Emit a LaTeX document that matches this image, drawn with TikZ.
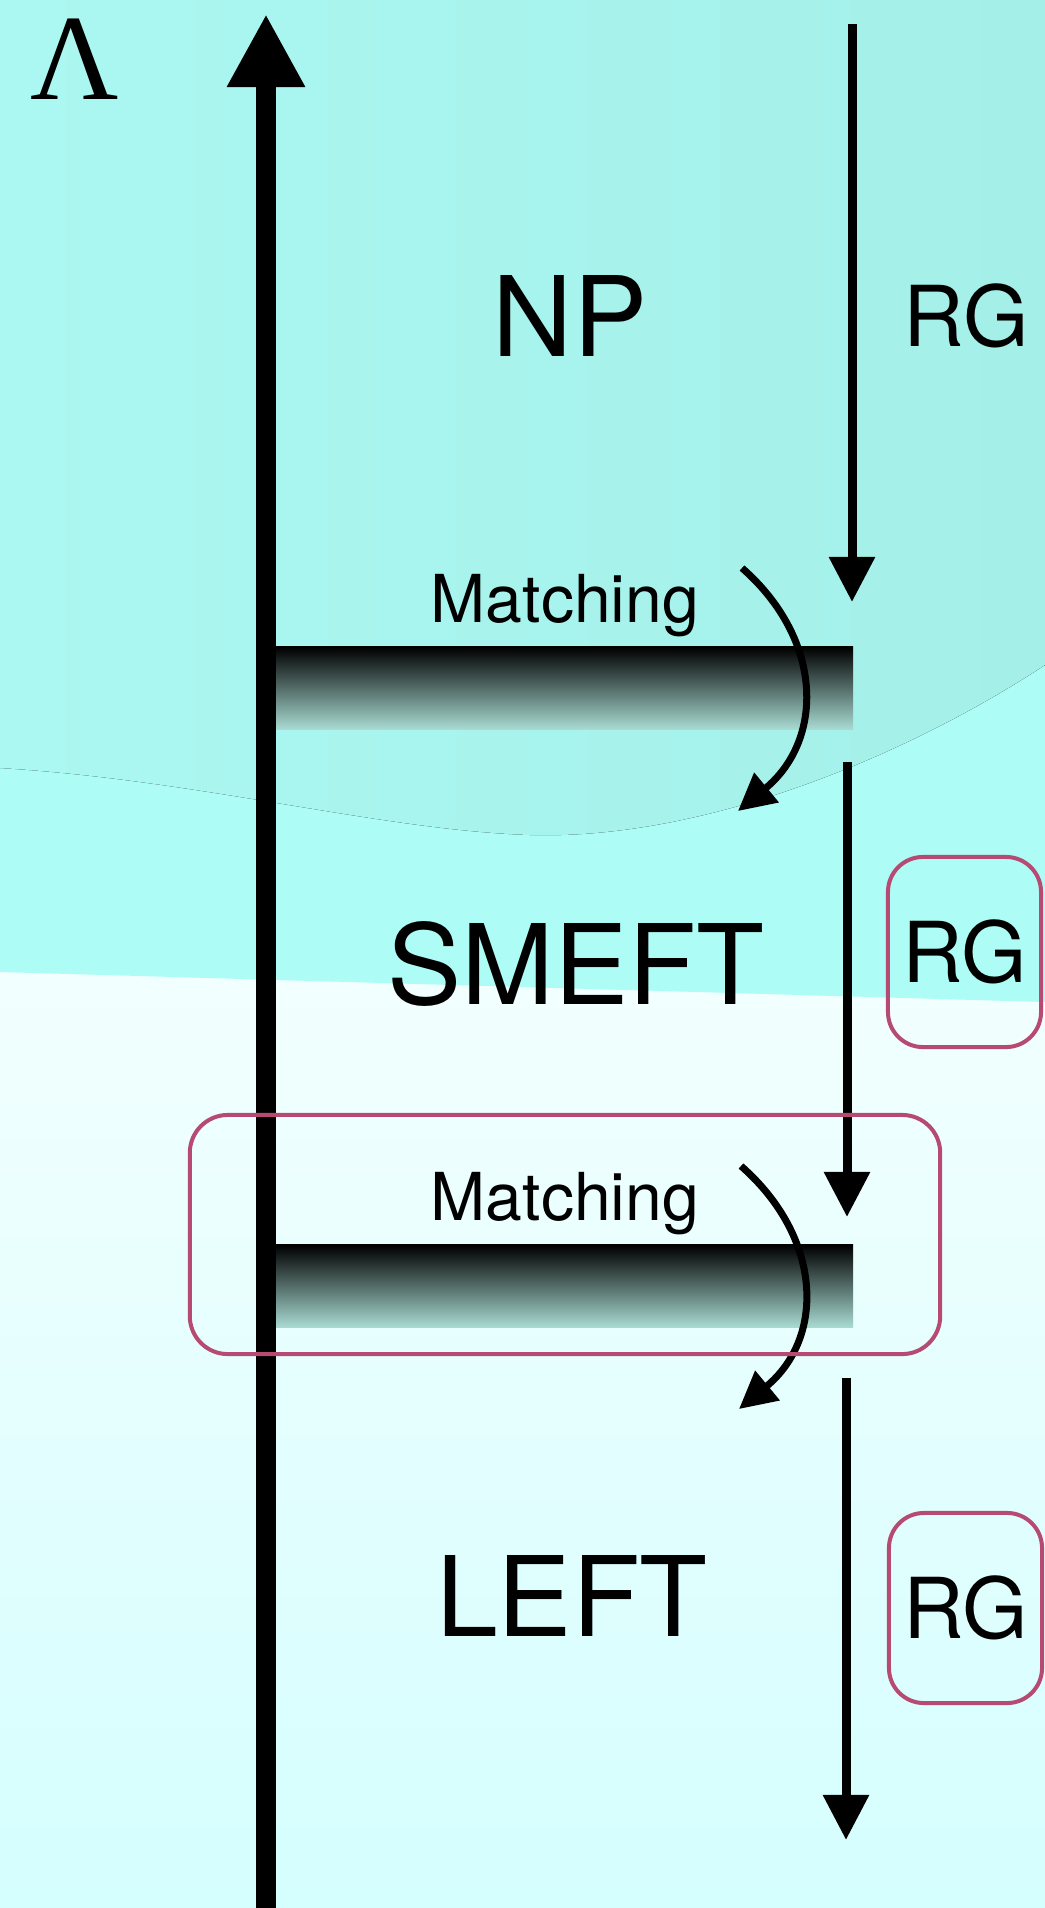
\documentclass[tikz,border=0pt]{standalone}
\usepackage{fontspec}
\setmainfont{TeX Gyre Heros}
\newfontfamily\lamfont{Liberation Serif}
\usetikzlibrary{arrows.meta}
\definecolor{bandleft}{HTML}{ABF7F1}
\definecolor{bandright}{HTML}{A4F0E9}
\definecolor{brightcyan}{HTML}{ADFCF6}
\definecolor{lowtop}{HTML}{F2FFFE}
\definecolor{lowbot}{HTML}{D5FEFE}
\definecolor{boxpink}{HTML}{B64A72}
\definecolor{barbottom}{HTML}{A8DAD2}

\tikzset{
  eftlabel/.style={font=\fontsize{31.6}{36}\selectfont, inner sep=0pt, anchor=base},
  rglabel/.style={font=\fontsize{23.9}{28}\selectfont, inner sep=0pt},
  rgbox/.style={rglabel, draw=boxpink, line width=0.04cm, rounded corners=0.35cm, minimum width=1.53cm, minimum height=1.9cm},
  matchlabel/.style={font=\fontsize{18.8}{22}\selectfont, inner sep=0pt, anchor=base},
  matchbar/.style={top color=black, bottom color=barbottom, minimum width=5.77cm, minimum height=0.82cm, inner sep=0pt},
  matchbox/.style={draw=boxpink, line width=0.04cm, rounded corners=0.38cm, minimum width=7.5cm, minimum height=2.39cm, inner sep=0pt},
  rgarrow/.style={-{Triangle[width=0.44cm,length=0.45cm]}, line width=0.09cm},
  matcharrow/.style={-{Triangle[width=0.37cm,length=0.37cm]}, line width=0.07cm},
}

\begin{document}
\begin{tikzpicture}[x=0.01cm, y=-0.01cm]
\useasboundingbox (0,0) rectangle (1045,1908);

\fill[top color=lowtop, bottom color=lowbot] (0,960) rectangle (1045,1908);
\fill[brightcyan] (0,0) -- (1045,0) -- (1045,1002) -- (0,972) -- cycle;
\fill[left color=bandleft, right color=bandright] (0,0) -- (1045,0) -- (1045,665)
  .. controls (900,760) and (700,840) .. (530,835)
  .. controls (380,830) and (200,780) .. (0,768) -- cycle;

\node[matchbar] (bar1) at (564.5,688) {};
\node[matchbar] (bar2) at (564.5,1286) {};

\coordinate (abot) at (266,1908);
\coordinate (atop) at (266,14);
\draw[-{Triangle[width=0.73cm,length=0.73cm]}, line width=0.195cm] (abot) -- (atop);
\node[font=\lamfont\fontsize{34.7}{40}\selectfont, inner sep=0pt, anchor=base] (lam) at (75,99) {Λ};

\coordinate (r1s) at (852,24);
\coordinate (r1e) at (852,602);
\coordinate (r2s) at (847,762);
\coordinate (r2e) at (847,1217);
\coordinate (r3s) at (846,1378);
\coordinate (r3e) at (846,1840);
\draw[rgarrow] (r1s) -- (r1e);
\draw[rgarrow] (r2s) -- (r2e);
\draw[rgarrow] (r3s) -- (r3e);

\coordinate (m1s) at (742,568);
\coordinate (m1e) at (738,811);
\coordinate (m2s) at (741,1166);
\coordinate (m2e) at (739,1409);
\draw[matcharrow] (m1s) .. controls +(82,72) and +(86,-71) .. (m1e);
\draw[matcharrow] (m2s) .. controls +(82,72) and +(86,-71) .. (m2e);

\node[eftlabel] (np) at (570,356) {NP};
\node[eftlabel] (smeft) at (576,1004) {SMEFT};
\node[eftlabel] (left) at (572,1636) {LEFT};
\node[matchlabel] (match1) at (565,622) {Matching};
\node[matchlabel] (match2) at (565,1220) {Matching};

\node[rglabel] (rg1) at (966,316) {RG};
\node[rgbox] (rg2) at (964.5,952) {RG};
\node[rgbox] (rg3) at (965.5,1608) {RG};
\node[matchbox] (mbox) at (565,1234.5) {};
\end{tikzpicture}
\end{document}
